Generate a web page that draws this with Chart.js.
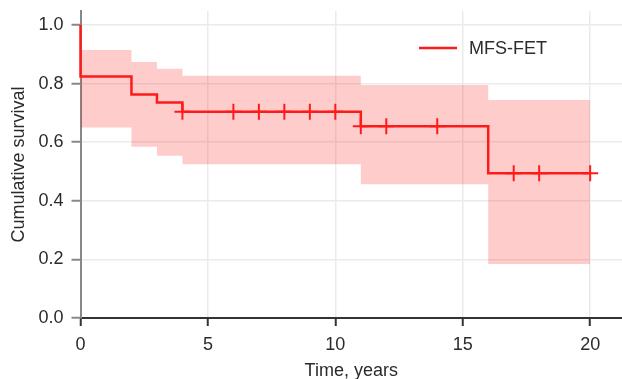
<!DOCTYPE html>
<html lang="en">
<head>
  <meta charset="UTF-8">
  <title>Cumulative survival MFS-FET</title>
  <script src="https://cdn.jsdelivr.net/npm/chart.js"></script>
  <style>
    html, body { margin: 0; padding: 0; background: #fff; }
    #wrap { width: 622px; height: 379px; }
  </style>
</head>
<body>
  <div id="wrap"><canvas id="kmChart" width="622" height="379"></canvas></div>

  <script>
    // Kaplan-Meier steps (time in years, survival)
    const kmTimes = [0, 0, 2, 3, 4, 11, 16, 20];
    const kmSurv = [1.0, 0.824, 0.763, 0.736, 0.704, 0.655, 0.494, 0.494];

    // confidence band
    const ciTimes = [0, 2, 3, 4, 11, 16, 20];
    const ciUpper = [0.915, 0.874, 0.851, 0.827, 0.795, 0.744, 0.744];
    const ciLower = [0.650, 0.585, 0.554, 0.525, 0.457, 0.184, 0.184];

    // censored observations
    const censorTimes = [4, 6, 7, 8, 9, 10, 11, 12, 14, 17, 18, 20];
    const censorSurv = [0.704, 0.704, 0.704, 0.704, 0.704, 0.704, 0.655, 0.655, 0.655, 0.494, 0.494, 0.494];

    const xTicks = [0, 5, 10, 15, 20];
    const yTicks = [0, 0.2, 0.4, 0.6, 0.8, 1.0];
    const seriesName = 'MFS-FET';

    const pts = (xs, ys) => xs.map((x, i) => ({ x: x, y: ys[i] }));

    Chart.defaults.font.family = "'Liberation Sans', Arial, Helvetica, sans-serif";
    Chart.defaults.font.size = 18;
    Chart.defaults.color = '#2b2b2b';

    // simple legend: red line + label, drawn inside the plot
    const lineLegend = {
      id: 'lineLegend',
      afterDatasetsDraw(chart) {
        const ctx = chart.ctx;
        ctx.save();
        ctx.strokeStyle = '#ff1a1a';
        ctx.lineWidth = 2.5;
        ctx.beginPath();
        ctx.moveTo(419, 48);
        ctx.lineTo(457, 48);
        ctx.stroke();
        ctx.fillStyle = '#2b2b2b';
        ctx.font = "18px 'Liberation Sans', Arial, sans-serif";
        ctx.textBaseline = 'middle';
        ctx.fillText(seriesName, 469, 49);
        ctx.restore();
      }
    };

    // fixed axis sizes, no extra label padding
    function fixSize(s, w, h) {
      if (w) s.width = w;
      if (h) s.height = h;
      s.paddingTop = 0;
      s.paddingBottom = 0;
      s.paddingLeft = 0;
      s.paddingRight = 0;
    }

    const ctx = document.getElementById('kmChart').getContext('2d');
    const kmChart = new Chart(ctx, {
      type: 'line',
      data: {
        datasets: [
          {
            label: seriesName,
            data: pts(kmTimes, kmSurv),
            borderColor: '#ff1a1a',
            borderWidth: 2.5,
            stepped: true,
            pointRadius: 0,
            fill: false,
            clip: false
          },
          {
            label: 'censored',
            data: pts(censorTimes, censorSurv),
            showLine: false,
            pointStyle: 'cross',
            pointRadius: 8,
            pointBorderWidth: 2,
            borderColor: '#ff1a1a',
            backgroundColor: '#ff1a1a',
            clip: false
          },
          {
            label: 'upper',
            data: pts(ciTimes, ciUpper),
            stepped: true,
            borderWidth: 0,
            borderColor: 'rgba(0,0,0,0)',
            pointRadius: 0,
            fill: false
          },
          {
            label: 'lower',
            data: pts(ciTimes, ciLower),
            stepped: true,
            borderWidth: 0,
            borderColor: 'rgba(0,0,0,0)',
            backgroundColor: 'rgba(255, 0, 0, 0.2)',
            pointRadius: 0,
            fill: '-1'
          }
        ]
      },
      options: {
        responsive: false,
        animation: false,
        layout: { autoPadding: false, padding: { left: 4, top: 11, right: 0, bottom: 0 } },
        plugins: {
          legend: { display: false },
          tooltip: { enabled: false }
        },
        scales: {
          x: {
            type: 'linear',
            min: 0,
            max: 21.25,
            afterBuildTicks: s => { s.ticks = xTicks.map(v => ({ value: v })); },
            afterFit: s => fixSize(s, 0, 61),
            ticks: { padding: 8, maxRotation: 0 },
            grid: { color: '#ebebeb', lineWidth: 1.5, tickColor: '#333', tickLength: 8, tickWidth: 2 },
            border: { color: '#333', width: 2 },
            title: { display: true, text: 'Time, years', font: { size: 18 }, padding: { top: 0, bottom: -3 } }
          },
          y: {
            min: 0,
            max: 1.048,
            afterBuildTicks: s => { s.ticks = yTicks.map(v => ({ value: v })); },
            afterFit: s => fixSize(s, 76.5, 0),
            ticks: { padding: 8, callback: v => v.toFixed(1) },
            grid: { color: '#ebebeb', lineWidth: 1.5, tickColor: '#888', tickLength: 9, tickWidth: 2 },
            border: { color: '#888', width: 2 },
            title: { display: true, text: 'Cumulative survival', font: { size: 18 }, padding: { top: 4, bottom: 4 } }
          }
        }
      },
      plugins: [lineLegend]
    });
  </script>
</body>
</html>
